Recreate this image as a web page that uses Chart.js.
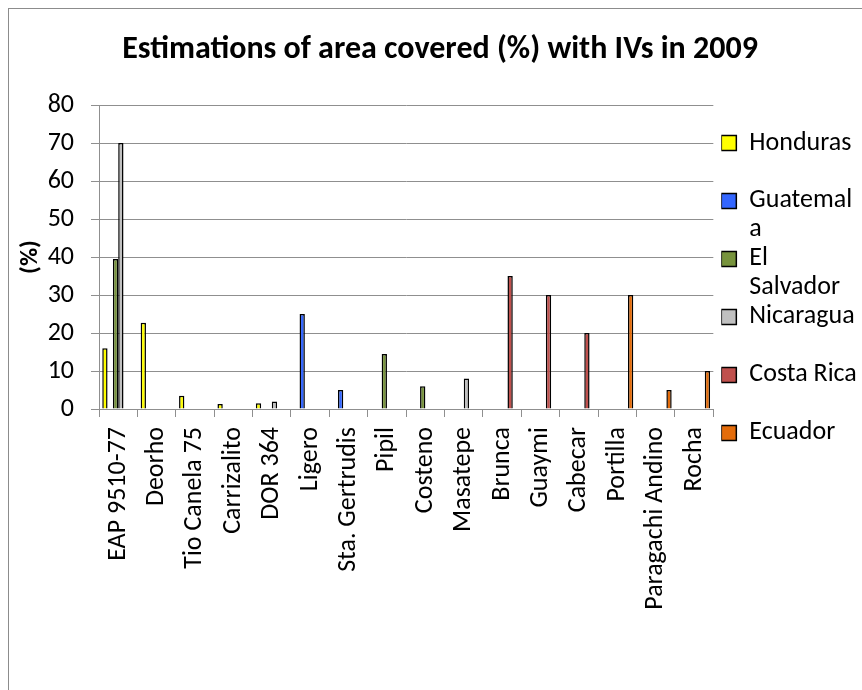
<!DOCTYPE html>
<html>
<head>
<meta charset="utf-8">
<script src="https://cdn.jsdelivr.net/npm/chart.js@4/dist/chart.umd.min.js"></script>
<style>
  html, body { margin: 0; padding: 0; background: #fff; }
  canvas { display: block; }
</style>
</head>
<body>
<canvas id="ivChart" width="862" height="690"></canvas>
<script>
const categories = ['EAP 9510-77', 'Deorho', 'Tio Canela 75', 'Carrizalito', 'DOR 364', 'Ligero',
  'Sta. Gertrudis', 'Pipil', 'Costeno', 'Masatepe', 'Brunca', 'Guaymi', 'Cabecar', 'Portilla',
  'Paragachi Andino', 'Rocha'];
const countries = ['Honduras', 'Guatemala', 'El Salvador', 'Nicaragua', 'Costa Rica', 'Ecuador'];
// how the legend text wraps in the original
const legendLines = [['Honduras', ''], ['Guatemal', 'a'], ['El', 'Salvador'], ['Nicaragua', ''], ['Costa Rica', ''], ['Ecuador', '']];

const honduras   = [16, 22.7, 3.5, 1.3, 1.5, null, null, null, null, null, null, null, null, null, null, null];
const guatemala  = [null, null, null, null, null, 25, 5, null, null, null, null, null, null, null, null, null];
const elSalvador = [39.5, null, null, null, null, null, null, 14.5, 6, null, null, null, null, null, null, null];
const nicaragua  = [70, null, null, null, 2, null, null, null, null, 8, null, null, null, null, null, null];
const costaRica  = [null, null, null, null, null, null, null, null, null, null, 35, 30, 20, null, null, null];
const ecuador    = [null, null, null, null, null, null, null, null, null, null, null, null, null, 30, 5, 10];
const yTicks = [0, 10, 20, 30, 40, 50, 60, 70, 80];

const seriesValues = [honduras, guatemala, elSalvador, nicaragua, costaRica, ecuador];
const colors = ['#FFFF00', '#3366FF', '#77933C', '#C0C0C0', '#C0504D', '#E46C0A'];

const FONT = 'Carlito, Calibri, Lato, sans-serif';
const gridGray = '#8f8f8f';

const framePlugin = {
  id: 'frame',
  beforeDraw(chart) {
    const c = chart.ctx;
    c.save();
    c.fillStyle = '#fff';
    c.fillRect(0, 0, chart.width, chart.height);
    c.strokeStyle = '#8c8c8c';
    c.lineWidth = 1;
    c.strokeRect(8.5, 8.5, chart.width + 20, chart.height + 20);
    c.restore();
  }
};

new Chart(document.getElementById('ivChart').getContext('2d'), {
  type: 'bar',
  data: {
    labels: categories,
    datasets: countries.map((name, i) => ({
      label: name,
      data: seriesValues[i],
      backgroundColor: colors[i],
      borderColor: '#000',
      borderWidth: 1.5,
      barPercentage: 1,
      categoryPercentage: 0.83
    }))
  },
  options: {
    responsive: false,
    animation: false,
    devicePixelRatio: 1,
    layout: { padding: { left: 18, right: 0, top: 0, bottom: 0 } },
    plugins: {
      title: {
        display: true,
        text: 'Estimations of area covered (%) with IVs in 2009',
        color: '#000',
        font: { family: FONT, size: 32, weight: 'bold', lineHeight: 1.2 },
        padding: { top: 30.8, bottom: 35.8 }
      },
      legend: {
        position: 'right',
        align: 'start',
        title: { display: true, text: ' ', font: { size: 10, lineHeight: 1 }, padding: { top: 120, bottom: 0 } },
        labels: {
          color: '#000',
          boxWidth: 15,
          boxHeight: 15,
          padding: 0,
          font: { family: FONT, size: 26, lineHeight: 1.115 },
          generateLabels(chart) {
            return Chart.defaults.plugins.legend.labels.generateLabels(chart)
              .map((item, i) => ({ ...item, text: legendLines[i] }));
          }
        }
      },
      tooltip: { enabled: false }
    },
    scales: {
      x: {
        grid: { display: true, drawOnChartArea: false, drawTicks: true, tickLength: 8, color: gridGray },
        border: { display: true, color: gridGray },
        ticks: {
          color: '#000',
          autoSkip: false,
          minRotation: 90,
          maxRotation: 90,
          padding: 10,
          font: { family: FONT, size: 26 }
        },
        afterFit(scale) { scale.height = 281; }
      },
      y: {
        min: yTicks[0],
        max: yTicks[yTicks.length - 1],
        afterBuildTicks(scale) { scale.ticks = yTicks.map(v => ({ value: v })); },
        grid: { color: gridGray, tickLength: 8 },
        border: { display: true, color: gridGray },
        ticks: {
          color: '#000',
          padding: 17,
          font: { family: FONT, size: 26 }
        },
        title: {
          display: true,
          text: '(%)',
          color: '#000',
          font: { family: FONT, size: 25, weight: 'bold', lineHeight: 1 },
          padding: { top: 0, bottom: 0 }
        },
        afterFit(scale) { scale.width = 81; }
      },
      gap: {
        type: 'linear',
        position: 'right',
        display: true,
        grid: { display: false },
        border: { display: false },
        ticks: { display: false },
        afterFit(scale) { scale.width = 8; }
      }
    }
  },
  plugins: [framePlugin]
});
</script>
</body>
</html>
